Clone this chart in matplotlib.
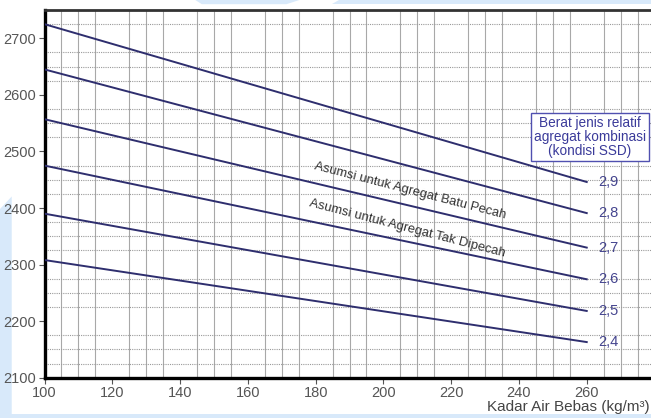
import matplotlib.pyplot as plt
from matplotlib.patches import Polygon
import numpy as np

plt.rcParams['font.family'] = ['Liberation Sans', 'DejaVu Sans']

# water content (kg/m3) at the two ends of each line
kadar_air = [100, 260]
# concrete density (kg/m3) at 100 and 260, per relative density
berat_jenis = ['2,9', '2,8', '2,7', '2,6', '2,5', '2,4']
bj_100 = [2725, 2645, 2557, 2475, 2390, 2308]
bj_260 = [2446, 2391, 2330, 2274, 2218, 2163]

x_ticks = [100, 120, 140, 160, 180, 200, 220, 240, 260]
y_ticks = [2100, 2200, 2300, 2400, 2500, 2600, 2700]

line_col = '#2e2e6e'
label_col = '#45458f'

fig = plt.figure(figsize=(6.51, 4.18), dpi=100)

# faint blue watermark shapes behind the chart
wm = '#d8e9fa'
for pts in [[(0, 0.50), (0.018, 0.53), (0.018, 0.0), (0, 0.0)],
            [(0, 0.0), (1, 0.0), (1, 0.01), (0, 0.01)],
            [(0.30, 1.0), (0.46, 1.0), (0.44, 0.99), (0.31, 0.99)],
            [(0.52, 1.0), (1.0, 1.0), (1.0, 0.99), (0.51, 0.99)]]:
    fig.patches.append(Polygon(pts, closed=True, transform=fig.transFigure,
                               facecolor=wm, edgecolor='none', zorder=-5))

ax = fig.add_axes([0.0684, 0.0964, 0.937, 0.8796])
ax.set_xlim(100, 280)
ax.set_ylim(2100, 2750)

# grid: solid verticals every 5, dotted horizontals every 25
ax.set_xticks(np.arange(100, 281, 5), minor=True)
ax.set_yticks(np.arange(2100, 2751, 25), minor=True)
ax.grid(which='minor', axis='x', color='#a8a8a8', lw=0.8, ls='-')
ax.grid(which='minor', axis='y', color='#9a9a9a', lw=0.8, ls=(0, (1, 1)))
ax.tick_params(which='minor', length=0)

ax.set_xticks(x_ticks)
ax.set_yticks(y_ticks)
ax.tick_params(which='major', length=4, width=0.8, color='#555555',
               labelsize=10.5, labelcolor='#555555', pad=2)
ax.set_axisbelow(True)

for s in ['left', 'bottom']:
    ax.spines[s].set_linewidth(2.4)
    ax.spines[s].set_color('black')
ax.spines['top'].set_linewidth(2.0)
ax.spines['top'].set_color('#333333')
ax.spines['right'].set_visible(False)

for lab, a, b in zip(berat_jenis, bj_100, bj_260):
    ax.plot(kadar_air, [a, b], color=line_col, lw=1.4, zorder=3)
    ax.text(263.5, b, lab, color=label_col, fontsize=10.5, va='center',
            ha='left', zorder=4)

ax.text(0.894, 0.654, 'Berat jenis relatif\nagregat kombinasi\n(kondisi SSD)',
        transform=ax.transAxes, ha='center', va='center', fontsize=9.8,
        color='#3b3b9a', linespacing=1.0,
        bbox=dict(boxstyle='square,pad=0.22', fc='white', ec='#5050b0', lw=1.0))

ax.text(208, 2431, 'Asumsi untuk Agregat Batu Pecah', rotation=-14.5,
        ha='center', va='center', fontsize=9.4, color='#333333', zorder=4)
ax.text(207, 2364, 'Asumsi untuk Agregat Tak Dipecah', rotation=-14.5,
        ha='center', va='center', fontsize=9.4, color='#333333', zorder=4)

fig.text(0.998, 0.026, 'Kadar Air Bebas (kg/m\u00b3)', ha='right', va='center',
         fontsize=11, color='#444444')

fig.savefig('out.png', dpi=100)
